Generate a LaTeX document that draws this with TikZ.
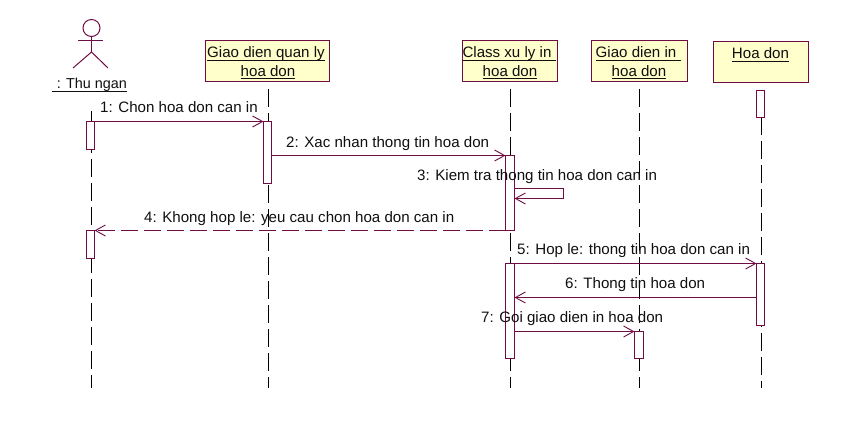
\documentclass[tikz,border=0pt]{standalone}
\usepackage{fontspec}
\setmainfont{Liberation Sans}
\usetikzlibrary{arrows.meta}
\definecolor{rose}{RGB}{112,12,68}
\definecolor{boxfill}{RGB}{255,255,204}
\definecolor{ink}{RGB}{15,15,15}
\newsavebox{\ulbox}
\newcommand{\ulin}[1]{\sbox{\ulbox}{#1}\usebox{\ulbox}\llap{\raisebox{-3pt}{\rule{\wd\ulbox}{1pt}}}}
\tikzset{
  x=1pt,y=-1pt,
  objbox/.style={draw=rose,fill=boxfill,line width=1pt,minimum width=#1,minimum height=41pt,inner sep=0pt,outer sep=0pt},
  objtext/.style={text=ink,font=\fontsize{15.1}{18}\selectfont,inner sep=0pt,anchor=base},
  msgtext/.style={text=ink,font=\fontsize{15.1}{18}\selectfont,inner sep=0pt,anchor=base west},
  lifeline/.style={draw=black,line width=1pt,dash pattern=on 18pt off 6pt},
  act/.style={draw=rose,fill=white,line width=1pt,minimum width=8pt,inner sep=0pt,outer sep=0pt},
  msg/.style={draw=rose,line width=1pt,-{Straight Barb[length=10pt,width=11pt,line width=0.9pt]}},
  rmsg/.style={msg,dash pattern=on 17pt off 6pt},
  actorline/.style={draw=rose,line width=1pt}
}
\begin{document}
\begin{tikzpicture}
\useasboundingbox (0,0) rectangle (847,444);
% lifeline ends
\coordinate (l1t) at (91.5,111); \coordinate (l1b) at (91.5,388);
\coordinate (l2t) at (268.5,89); \coordinate (l2b) at (268.5,388);
\coordinate (l3t) at (510.5,89); \coordinate (l3b) at (510.5,388);
\coordinate (l4t) at (639.5,89); \coordinate (l4b) at (639.5,388);
\coordinate (l5t) at (761.5,117);\coordinate (l5b) at (761.5,388);
\draw[lifeline] (l1t) -- (l1b);
\draw[lifeline] (l2t) -- (l2b);
\draw[lifeline] (l3t) -- (l3b);
\draw[lifeline] (l4t) -- (l4b);
\draw[lifeline] (l5t) -- (l5b);
% objects
\node[objbox=124pt] (o2) at (267.5,61) {};
\node[objbox=95pt] (o3) at (510,61) {};
\node[objbox=96pt] (o4) at (639.5,61) {};
\node[objbox=95pt] (o5) at (761,62) {};
\node[objtext] (o2a) at (266,58) {\ulin{Giao dien quan ly}};
\node[objtext] (o2b) at (268,76.5) {\ulin{hoa don}};
\node[objtext] (o3a) at (509.5,58) {\ulin{Class xu ly in\,\,}};
\node[objtext] (o3b) at (510,76.5) {\ulin{hoa don}};
\node[objtext] (o4a) at (638.5,58) {\ulin{Giao dien in\,\,}};
\node[objtext] (o4b) at (639,76.5) {\ulin{hoa don}};
\node[objtext] (o5a) at (760.5,59) {\ulin{Hoa don}};
% actor
\node[draw=rose,line width=1pt,circle,minimum size=17pt,inner sep=0pt,outer sep=0pt] (head) at (91.5,28) {};
\coordinate (neck) at (91.5,40.5);
\coordinate (hip) at (91.5,52);
\coordinate (armL) at (78,40.5); \coordinate (armR) at (103,40.5);
\coordinate (legL) at (73,68); \coordinate (legR) at (108,68);
\draw[actorline] (head.south) -- (hip);
\draw[actorline] (armL) -- (armR);
\draw[actorline] (legL) -- (hip) -- (legR);
\node[objtext,font=\fontsize{14.4}{18}\selectfont] (actorname) at (89.5,88.5) {\ulin{\,\,: Thu ngan}};
% activations
\node[act,minimum height=28pt] (a1) at (90.5,135.5) {};
\node[act,minimum height=28pt] (a1b) at (90.5,244.5) {};
\node[act,minimum height=62pt] (a2) at (267.5,152.5) {};
\node[act,minimum width=9pt,minimum height=75pt] (a3) at (510,193) {};
\node[act,minimum width=9pt,minimum height=95pt] (a3b) at (510,311) {};
\node[act,minimum width=9pt,minimum height=27pt] (a4) at (639,345) {};
\node[act,minimum height=27pt] (a5) at (760.5,104) {};
\node[act,minimum height=62pt] (a5b) at (760.5,294.5) {};
% messages
\draw[msg] (a1.north east) -- (a2.north west);
\draw[msg] (a2.east |- a3.north) -- (a3.north west);
\coordinate (s1) at (563.5,188.5);
\coordinate (s2) at (563.5,198.5);
\draw[msg] (a3.east |- s1) -- (s1) -- (s2) -- (a3.east |- s2);
\draw[rmsg] (a3.south west) -- (a1b.north east);
\draw[msg] (a3b.north east) -- (a5b.north west);
\coordinate (m6) at (0,297.5);
\draw[msg] (a5b.west |- m6) -- (a3b.east |- m6);
\draw[msg] (a3b.east |- a4.north) -- (a4.north west);
% message labels
\node[msgtext] (t1) at (100,113) {1: Chon hoa don can in};
\node[msgtext] (t2) at (286,147) {2: Xac nhan thong tin hoa don};
\node[msgtext] (t3) at (417,180) {3: Kiem tra thong tin hoa don can in};
\node[msgtext] (t4) at (144,222) {4: Khong hop le: yeu cau chon hoa don can in};
\node[msgtext] (t5) at (517,254.5) {5: Hop le: thong tin hoa don can in};
\node[msgtext] (t6) at (565,288.5) {6: Thong tin hoa don};
\node[msgtext] (t7) at (481,322.5) {7: Goi giao dien in hoa don};
\end{tikzpicture}
\end{document}
